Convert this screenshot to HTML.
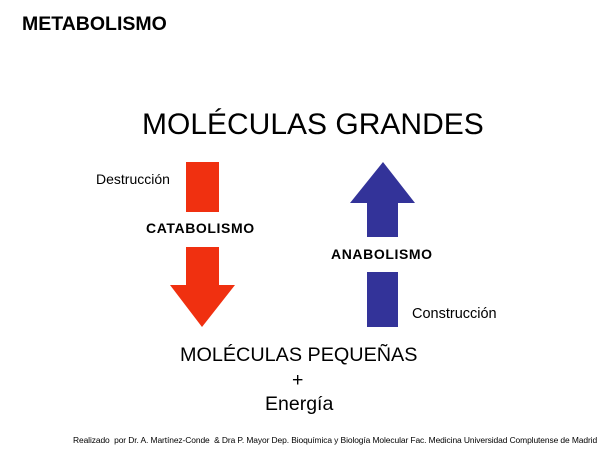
<!DOCTYPE html>
<html><head><meta charset="utf-8"><style>
body{margin:0;width:600px;height:450px;background:#fff;position:relative;overflow:hidden;font-family:"Liberation Sans",Arial,sans-serif;color:#000}
.t{position:absolute;white-space:nowrap;line-height:1}
</style></head><body>
<div class="t" style="left:22px;top:15px;font-size:19.5px;font-weight:bold">METABOLISMO</div>
<div class="t" style="left:142px;top:110px;font-size:30px">MOLÉCULAS GRANDES</div>
<div class="t" style="left:96px;top:172px;font-size:14px">Destrucción</div>
<div class="t" style="left:146px;top:221px;font-size:14px;font-weight:bold;letter-spacing:0.6px">CATABOLISMO</div>
<div class="t" style="left:331px;top:247px;font-size:14px;font-weight:bold;letter-spacing:0.6px">ANABOLISMO</div>
<div class="t" style="left:412px;top:307px;font-size:14.5px">Construcción</div>
<div class="t" style="left:180px;top:346px;font-size:19.8px">MOLÉCULAS PEQUEÑAS</div>
<div class="t" style="left:292px;top:371px;font-size:19.5px">+</div>
<div class="t" style="left:265px;top:395px;font-size:19.5px">Energía</div>
<div class="t" style="left:73px;top:436px;font-size:8.45px;letter-spacing:-0.1px">Realizado &nbsp;por Dr. A. Martínez-Conde &nbsp;&amp; Dra P. Mayor Dep. Bioquímica y Biología Molecular Fac. Medicina Universidad Complutense de Madrid</div>
<svg width="600" height="450" style="position:absolute;left:0;top:0">
<rect x="186" y="162" width="33" height="50" fill="#f03010"/>
<polygon points="186,247 219,247 219,285 235,285 202,327 170,285 186,285" fill="#f03010"/>
<polygon points="383,162 415,203 398,203 398,237 367,237 367,203 350,203" fill="#333399"/>
<rect x="367" y="272" width="31" height="55" fill="#333399"/>
</svg>
</body></html>
